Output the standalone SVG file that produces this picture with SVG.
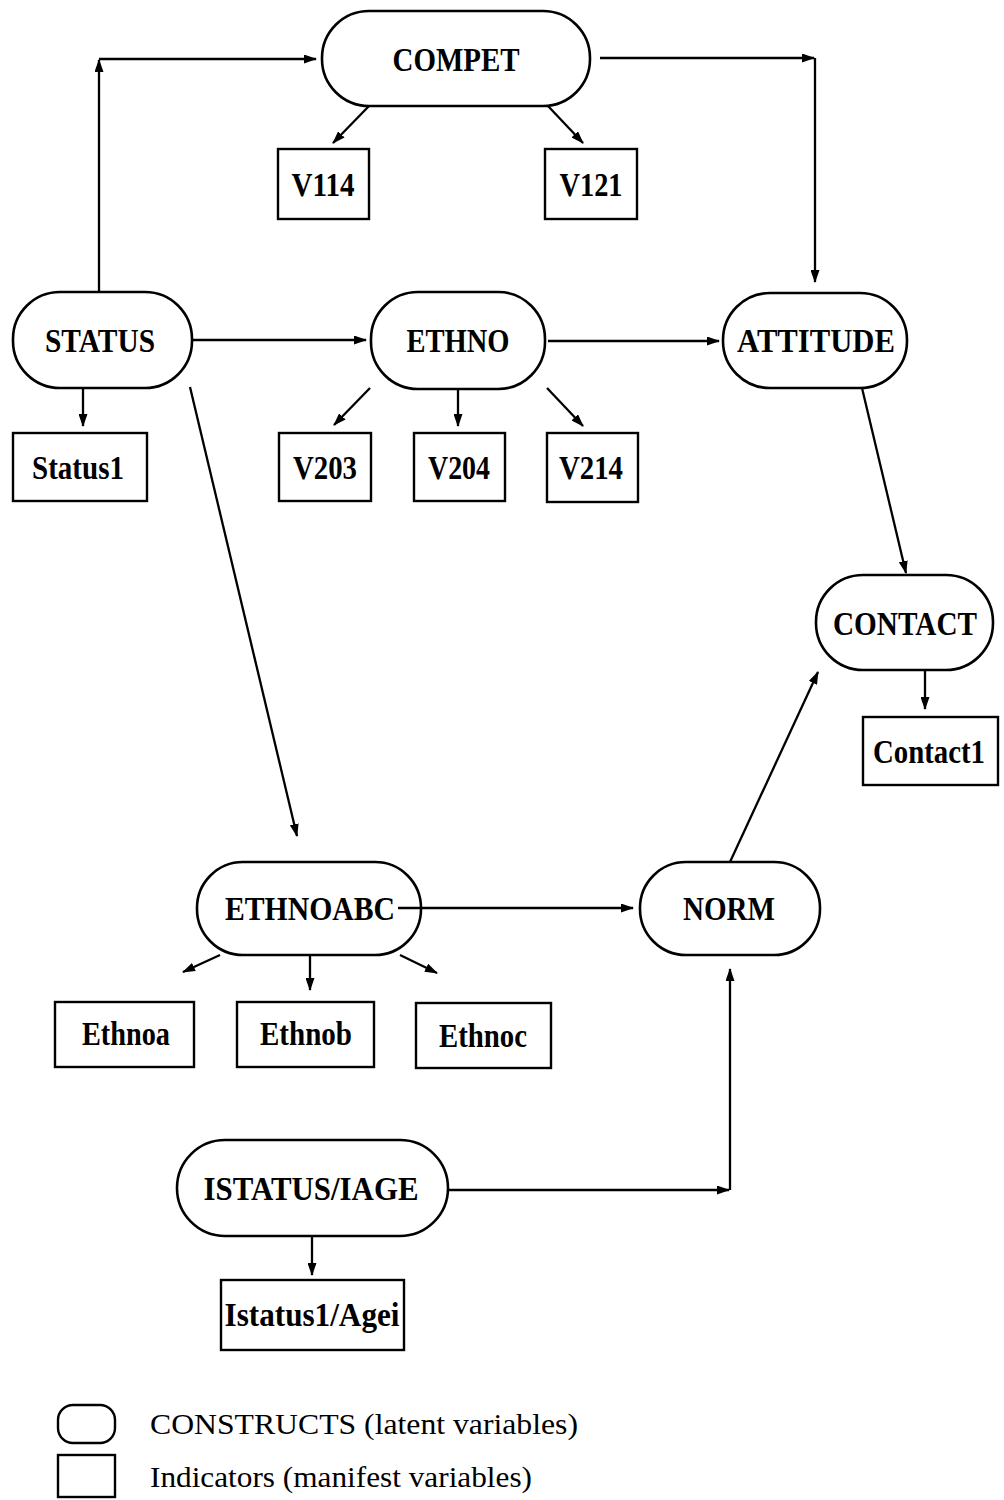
<svg xmlns="http://www.w3.org/2000/svg" width="1004" height="1500" viewBox="0 0 1004 1500">
<style>
.c{fill:none;stroke:#000;stroke-width:2.6}
.b{fill:none;stroke:#000;stroke-width:2.4}
.t{font-family:"Liberation Serif","DejaVu Serif",serif;font-weight:bold;font-size:33px;text-anchor:middle;fill:#000}
.l{font-family:"Liberation Serif","DejaVu Serif",serif;font-size:29px;fill:#000}
.e{fill:none;stroke:#000;stroke-width:2.3;marker-end:url(#a)}
</style>
<defs>
<marker id="a" markerUnits="userSpaceOnUse" markerWidth="13" markerHeight="9" refX="12" refY="4.5" orient="auto">
<path d="M0,0 L13,4.5 L0,9 z" fill="#000"/>
</marker>
</defs>
<g id="connectors">
<path class="e" d="M99,292 V60"/>
<path class="e" d="M99,59 H316"/>
<path class="e" d="M600,58 H814"/>
<path class="e" d="M815,58 V282"/>
<path class="e" d="M369,106 L333,143"/>
<path class="e" d="M548,106 L583,143"/>
<path class="e" d="M192,340 H366"/>
<path class="e" d="M548,341 H719"/>
<path class="e" d="M83,388 V426"/>
<path class="e" d="M370,388 L334,425"/>
<path class="e" d="M458,389 V426"/>
<path class="e" d="M547,388 L583,426"/>
<path class="e" d="M190,387 L297,836"/>
<path class="e" d="M862,388 L906,573"/>
<path class="e" d="M925,670 V709"/>
<path class="e" d="M730,862 L818,672"/>
<path class="e" d="M398,908 H633"/>
<path class="e" d="M220,955 L183,972"/>
<path class="e" d="M310,955 V990"/>
<path class="e" d="M400,955 L437,973"/>
<path class="e" d="M447,1190 H729"/>
<path class="e" d="M730,1190 V969"/>
<path class="e" d="M312,1236 V1275"/>
</g>
<g id="COMPET"><rect class="c" x="322" y="11" width="268" height="95" rx="47"/><text class="t" x="456" y="71" textLength="127" lengthAdjust="spacingAndGlyphs">COMPET</text></g>
<g id="STATUS"><rect class="c" x="13" y="292" width="179" height="96" rx="47"/><text class="t" x="100" y="352" textLength="110" lengthAdjust="spacingAndGlyphs">STATUS</text></g>
<g id="ETHNO"><rect class="c" x="371" y="292" width="174" height="97" rx="47"/><text class="t" x="458" y="352" textLength="103" lengthAdjust="spacingAndGlyphs">ETHNO</text></g>
<g id="ATTITUDE"><rect class="c" x="723" y="293" width="184" height="95" rx="47"/><text class="t" x="816" y="352" textLength="158" lengthAdjust="spacingAndGlyphs">ATTITUDE</text></g>
<g id="CONTACT"><rect class="c" x="816" y="575" width="177" height="95" rx="47"/><text class="t" x="905" y="635" textLength="144" lengthAdjust="spacingAndGlyphs">CONTACT</text></g>
<g id="ETHNOABC"><rect class="c" x="197" y="862" width="224" height="93" rx="46"/><text class="t" x="310" y="920" textLength="170" lengthAdjust="spacingAndGlyphs">ETHNOABC</text></g>
<g id="NORM"><rect class="c" x="640" y="862" width="180" height="93" rx="46"/><text class="t" x="729" y="920" textLength="92" lengthAdjust="spacingAndGlyphs">NORM</text></g>
<g id="ISTATUS_IAGE"><rect class="c" x="177" y="1140" width="271" height="96" rx="48"/><text class="t" x="311" y="1200" textLength="215" lengthAdjust="spacingAndGlyphs">ISTATUS/IAGE</text></g>
<g id="V114"><rect class="b" x="278" y="149" width="91" height="70"/><text class="t" x="323" y="196" textLength="63" lengthAdjust="spacingAndGlyphs">V114</text></g>
<g id="V121"><rect class="b" x="545" y="149" width="92" height="70"/><text class="t" x="591" y="196" textLength="63" lengthAdjust="spacingAndGlyphs">V121</text></g>
<g id="Status1"><rect class="b" x="13" y="433" width="134" height="68"/><text class="t" x="78" y="479" textLength="92" lengthAdjust="spacingAndGlyphs">Status1</text></g>
<g id="V203"><rect class="b" x="279" y="433" width="92" height="68"/><text class="t" x="325" y="479" textLength="64" lengthAdjust="spacingAndGlyphs">V203</text></g>
<g id="V204"><rect class="b" x="414" y="433" width="91" height="68"/><text class="t" x="459" y="479" textLength="62" lengthAdjust="spacingAndGlyphs">V204</text></g>
<g id="V214"><rect class="b" x="547" y="433" width="91" height="69"/><text class="t" x="591" y="479" textLength="64" lengthAdjust="spacingAndGlyphs">V214</text></g>
<g id="Contact1"><rect class="b" x="863" y="717" width="135" height="68"/><text class="t" x="929" y="763" textLength="112" lengthAdjust="spacingAndGlyphs">Contact1</text></g>
<g id="Ethnoa"><rect class="b" x="55" y="1002" width="139" height="65"/><text class="t" x="126" y="1045" textLength="88" lengthAdjust="spacingAndGlyphs">Ethnoa</text></g>
<g id="Ethnob"><rect class="b" x="237" y="1002" width="137" height="65"/><text class="t" x="306" y="1045" textLength="92" lengthAdjust="spacingAndGlyphs">Ethnob</text></g>
<g id="Ethnoc"><rect class="b" x="416" y="1003" width="135" height="65"/><text class="t" x="483" y="1047" textLength="88" lengthAdjust="spacingAndGlyphs">Ethnoc</text></g>
<g id="Istatus1_Agei"><rect class="b" x="221" y="1280" width="183" height="70"/><text class="t" x="312" y="1326" textLength="175" lengthAdjust="spacingAndGlyphs">Istatus1/Agei</text></g>
<g id="legend">
<rect class="b" x="58" y="1405" width="57" height="38" rx="15"/>
<rect class="b" x="58" y="1455" width="57" height="42"/>
<text class="l" x="150" y="1434" textLength="428" lengthAdjust="spacingAndGlyphs">CONSTRUCTS (latent variables)</text>
<text class="l" x="150" y="1487" textLength="382" lengthAdjust="spacingAndGlyphs">Indicators (manifest variables)</text>
</g>
</svg>
